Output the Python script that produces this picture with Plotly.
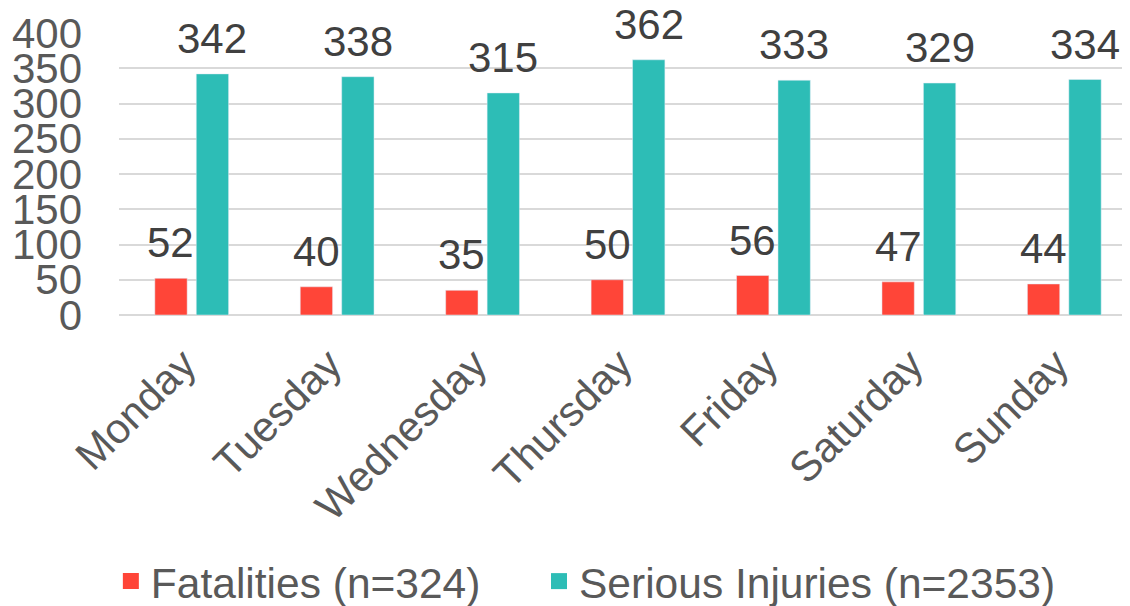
import plotly.graph_objects as go

days = ["Monday", "Tuesday", "Wednesday", "Thursday", "Friday", "Saturday", "Sunday"]
fatalities = [52, 40, 35, 50, 56, 47, 44]
serious_injuries = [342, 338, 315, 362, 333, 329, 334]
series_names = ["Fatalities (n=324)", "Serious Injuries (n=2353)"]
y_ticks = [0, 50, 100, 150, 200, 250, 300, 350, 400]

RED = "#FF4538"
TEAL = "#2DBDB6"
FONT = "Liberation Sans, Arial, sans-serif"

# page body has an 8px margin, so the figure is offset by (8, 8) on screen
W, H = 1130, 598
M_L, M_R, M_T, M_B = 111, 1, 25, 291
BARGAP = 0.43

fig = go.Figure()
fig.add_trace(go.Bar(x=days, y=fatalities, name=series_names[0], marker_color=RED, showlegend=False))
fig.add_trace(go.Bar(x=days, y=serious_injuries, name=series_names[1], marker_color=TEAL, showlegend=False))

# legend entries (square swatches), one legend per entry for exact placement
for nm, col, lg in zip(series_names, (RED, TEAL), ("legend", "legend2")):
    fig.add_trace(go.Scatter(x=[None], y=[None], mode="markers", name=nm, legend=lg,
                             marker=dict(symbol="square", size=22, color=col)))

# data labels
plot_w = W - M_L - M_R
cat_px = plot_w / len(days)
off = cat_px * (1 - BARGAP) / 4
for vals, sign in ((fatalities, -1), (serious_injuries, 1)):
    for d, v in zip(days, vals):
        fig.add_annotation(x=d, y=v, text=str(v), showarrow=False, xanchor="center",
                           yanchor="bottom", xshift=sign * off, yshift=10,
                           font=dict(family=FONT, size=42, color="#404040"))

legend_common = dict(orientation="h", xanchor="left", y=-0.945, yanchor="middle",
                     font=dict(family=FONT, size=42.5, color="#595959"), itemwidth=30,
                     bgcolor="rgba(0,0,0,0)")

fig.update_layout(
    width=W, height=H,
    margin=dict(l=M_L, r=M_R, t=M_T, b=M_B, autoexpand=False),
    paper_bgcolor="white", plot_bgcolor="white",
    barmode="group", bargap=BARGAP, bargroupgap=0.22,
    font=dict(family=FONT, size=42, color="#595959"),
    showlegend=True,
    legend=dict(x=-0.008, **legend_common),
    legend2=dict(x=0.4126, **legend_common),
    xaxis=dict(tickangle=-45, showgrid=False, showline=False, ticks="", automargin=False,
               ticklabelstandoff=15, ticklabelshift=-8,
               tickfont=dict(family=FONT, size=42, color="#595959")),
    yaxis=dict(range=[0, 400], tickvals=y_ticks, showgrid=True, gridcolor="#D9D9D9",
               gridwidth=1.5, zeroline=True, zerolinecolor="#D9D9D9", zerolinewidth=1.5,
               showline=False, ticks="", ticklabelstandoff=36, automargin=False,
               tickfont=dict(family=FONT, size=42, color="#595959")),
)

fig.write_html("out.html")
